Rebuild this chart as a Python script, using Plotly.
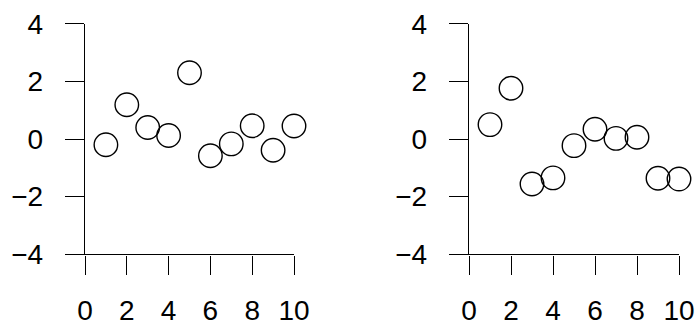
import plotly.graph_objects as go

x_vals = [1, 2, 3, 4, 5, 6, 7, 8, 9, 10]
y_left = [-0.20, 1.19, 0.40, 0.12, 2.30, -0.58, -0.17, 0.46, -0.39, 0.45]
y_right = [0.50, 1.76, -1.56, -1.35, -0.23, 0.34, 0.02, 0.06, -1.36, -1.39]

x_ticks = [0, 2, 4, 6, 8, 10]
y_ticks = [-4, -2, 0, 2, 4]

W, H = 698, 326
FONT = dict(family="Liberation Sans, Arial, sans-serif", size=28, color="black")

marker = dict(symbol="circle-open", size=23.5, color="black", line=dict(width=1.4, color="black"))

fig = go.Figure()
fig.add_trace(go.Scatter(x=x_vals, y=y_left, mode="markers", marker=marker,
                         cliponaxis=False, xaxis="x", yaxis="y", showlegend=False))
fig.add_trace(go.Scatter(x=x_vals, y=y_right, mode="markers", marker=marker,
                         cliponaxis=False, xaxis="x2", yaxis="y2", showlegend=False))


def xax(domain, anchor):
    return dict(domain=domain, anchor=anchor, range=[0, 10], tickvals=x_ticks,
                showline=True, linecolor="black", linewidth=1.4, ticks="outside",
                ticklen=19, tickwidth=1.4, tickcolor="black", showgrid=False,
                zeroline=False, tickfont=FONT, ticklabelstandoff=12, automargin=False)


def yax(anchor):
    return dict(domain=[(H - 254.3) / H, (H - 23.7) / H], anchor=anchor, range=[-4, 4],
                tickvals=y_ticks, showline=True, linecolor="black", linewidth=1.4,
                ticks="outside", ticklen=19, tickwidth=1.4, tickcolor="black",
                showgrid=False, zeroline=False, tickfont=FONT, ticklabelstandoff=16,
                automargin=False)


fig.update_layout(
    width=W, height=H,
    margin=dict(l=0, r=0, t=0, b=0),
    plot_bgcolor="white", paper_bgcolor="white",
    xaxis=xax([85 / W, 294 / W], "y"),
    yaxis=yax("x"),
    xaxis2=xax([469 / W, 679 / W], "y2"),
    yaxis2=yax("x2"),
)

# page body has a default 8px margin; drop it so the figure sits at (0, 0)
fig.write_html("out.html", config={"displayModeBar": False},
               post_script="document.body.style.margin = '0';")
